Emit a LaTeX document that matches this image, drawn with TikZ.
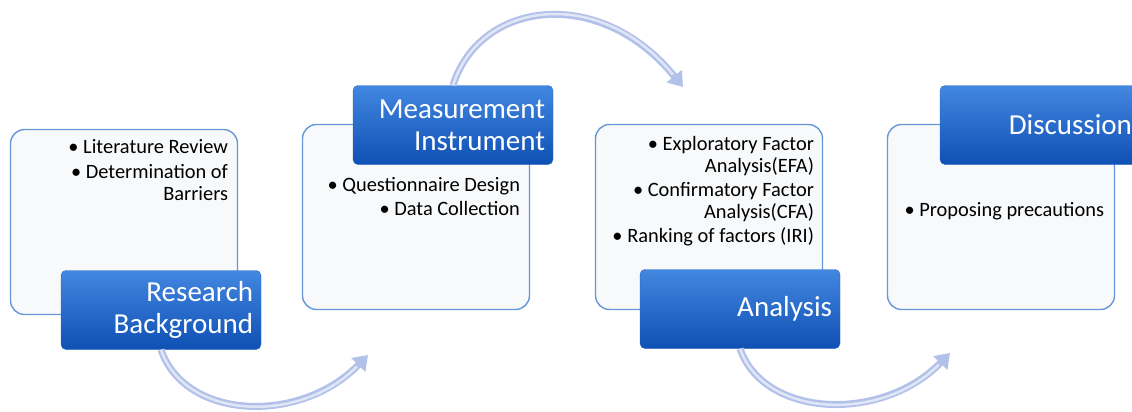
\documentclass[tikz,border=0pt]{standalone}
\usepackage{fontspec}
\setmainfont{Carlito}
\usetikzlibrary{positioning,arrows.meta}

\definecolor{tabtop}{HTML}{4287E0}
\definecolor{tabbot}{HTML}{0F50B4}
\definecolor{tabedge}{HTML}{2A69C4}
\definecolor{boxfill}{HTML}{F8F9FB}
\definecolor{boxedge}{HTML}{6596D8}
\definecolor{flowblue}{HTML}{B2C1EA}

\tikzset{
  stagebox/.style={draw=boxedge, line width=1.4pt, fill=boxfill, rounded corners=14pt,
    minimum width=227pt, minimum height=185pt, inner sep=0pt},
  stagetab/.style={draw=tabedge, top color=tabtop, bottom color=tabbot, rounded corners=5pt,
    minimum height=79pt, text width=184pt, inner xsep=8pt, align=right, text=white,
    font=\fontsize{29}{32}\selectfont},
  itemtext/.style={inner sep=0pt, align=right, font=\fontsize{20.4}{22}\selectfont},
  flow/.style={draw=flowblue, line width=7pt, -{Triangle[length=14pt,width=19pt]},
    postaction={draw=white, line width=2.5pt, opacity=.6, shorten >=16pt, -}}
}

\begin{document}
\begin{tikzpicture}[x=1pt,y=-1pt]
  \useasboundingbox (0,0) rectangle (1132,412);

  % white boxes
  \node[stagebox] (box1) at (124,222) {};
  \node[stagebox] (box2) at (416,217) {};
  \node[stagebox] (box3) at (709,217) {};
  \node[stagebox] (box4) at (1001,217) {};

  \node[itemtext, below left=10pt and 10pt of box1.north east] (items1)
    {• Literature Review\\[3pt] • Determination of\\ Barriers};
  \node[itemtext, below left=53pt and 10pt of box2.north east] (items2)
    {• Questionnaire Design\\[2pt] • Data Collection};
  \node[itemtext, below left=12pt and 9pt of box3.north east] (items3)
    {• Exploratory Factor\\ Analysis(EFA)\\[2pt] • Confirmatory Factor\\ Analysis(CFA)\\[2pt] • Ranking of factors (IRI)};
  \node[itemtext, below left=78pt and 11pt of box4.north east] (items4)
    {• Proposing precautions};

  % blue tabs
  \node[stagetab] (tab1) at (161,310) {Research\\ Background};
  \node[stagetab] (tab2) at (453,125) {Measurement\\ Instrument};
  \node[stagetab] (tab3) at (740,309) {Analysis};
  \node[stagetab] (tab4) at (1040,125) {Discussion};

  % curved arrows
  \coordinate (end1) at (368,355);
  \coordinate (end2) at (683,87);
  \coordinate (end3) at (950,353);
  \draw[flow] (tab1.south) .. controls (185,420) and (300,425) .. (end1);
  \draw[flow] (tab2.north) .. controls (480,0) and (600,-15) .. (end2);
  \draw[flow] (tab3.south) .. controls (764,418) and (882,423) .. (end3);
\end{tikzpicture}
\end{document}
